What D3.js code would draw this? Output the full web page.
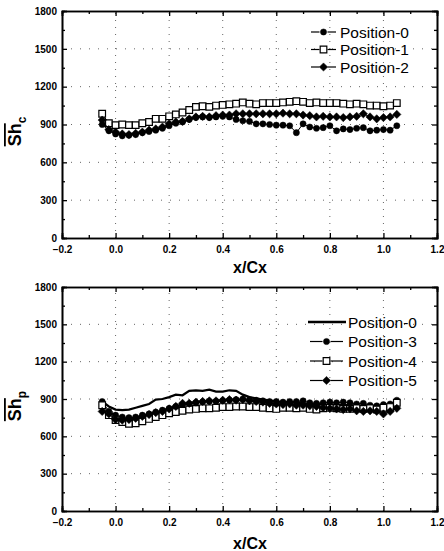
<!DOCTYPE html>
<html>
<head>
<meta charset="utf-8">
<script src="https://cdn.jsdelivr.net/npm/d3@7"></script>
<style>
  body { margin: 0; background: #fff; }
  svg { display: block; font-family: "Liberation Sans", Arial, sans-serif; }
</style>
</head>
<body>
<svg></svg>
<script>
const width = 444, height = 551;

// x/Cx stations shared by every series
const xPos = [-0.05, -0.025, 0, 0.025, 0.05, 0.075, 0.1, 0.125, 0.15, 0.175,
  0.2, 0.225, 0.25, 0.275, 0.3, 0.325, 0.35, 0.375, 0.4, 0.425,
  0.45, 0.475, 0.5, 0.525, 0.55, 0.575, 0.6, 0.625, 0.65, 0.675,
  0.7, 0.725, 0.75, 0.775, 0.8, 0.825, 0.85, 0.875, 0.9, 0.925,
  0.95, 0.975, 1.0, 1.025, 1.05];

const xTicks = [-0.2, 0, 0.2, 0.4, 0.6, 0.8, 1.0, 1.2];
const yTicks = [0, 300, 600, 900, 1200, 1500, 1800];

// top panel (Sh_c)
const topPos0 = [900, 850, 825, 810, 815, 820, 835, 845, 855, 870,
  890, 910, 920, 940, 955, 960, 955, 960, 965, 960,
  940, 930, 925, 905, 905, 900, 895, 895, 890, 835,
  905, 880, 870, 875, 890, 850, 865, 860, 870, 875,
  850, 855, 860, 855, 890];
const topPos1 = [985, 910, 895, 900, 895, 895, 910, 920, 945, 945,
  965, 980, 995, 1015, 1040, 1045, 1040, 1050, 1055, 1060,
  1065, 1075, 1065, 1060, 1070, 1070, 1070, 1075, 1080, 1085,
  1080, 1070, 1075, 1070, 1070, 1070, 1065, 1060, 1065, 1060,
  1050, 1050, 1045, 1050, 1070];
const topPos2 = [935, 860, 840, 825, 820, 830, 840, 855, 865, 880,
  905, 920, 925, 945, 960, 965, 960, 970, 975, 975,
  985, 985, 985, 985, 985, 985, 985, 990, 985, 985,
  975, 970, 960, 965, 960, 960, 955, 960, 965, 985,
  960, 945, 955, 960, 980];

// bottom panel (Sh_p)
const botPos0 = [880, 840, 815, 810, 815, 830, 845, 860, 895, 900,
  915, 935, 930, 965, 970, 965, 975, 960, 960, 970,
  965, 935, 915, 905, 895, 890, 880, 875, 875, 870,
  865, 860, 860, 855, 855, 855, 850, 850, 845, 840,
  830, 825, 835, 845, 870];
const botPos3 = [880, 800, 770, 755, 750, 755, 770, 780, 795, 810,
  825, 840, 850, 860, 870, 875, 880, 880, 885, 890,
  895, 900, 895, 890, 885, 880, 880, 875, 880, 880,
  885, 870, 865, 870, 875, 870, 875, 870, 860, 865,
  850, 845, 855, 860, 890];
const botPos4 = [850, 770, 730, 715, 700, 705, 720, 740, 755, 770,
  785, 795, 805, 815, 820, 825, 825, 830, 835, 835,
  840, 840, 835, 835, 830, 825, 820, 830, 830, 825,
  830, 820, 815, 825, 830, 825, 820, 820, 825, 820,
  825, 815, 830, 835, 870];
const botPos5 = [800, 780, 735, 730, 735, 745, 760, 775, 790, 800,
  820, 840, 865, 865, 875, 880, 885, 885, 890, 895,
  890, 895, 885, 880, 875, 865, 860, 855, 860, 850,
  850, 845, 840, 830, 825, 820, 815, 820, 805, 800,
  805, 800, 780, 800, 825];

var svg = d3.select("svg")
    .attr("width", width)
    .attr("height", height);

const symbols = {
    circle: { d: d3.symbol().type(d3.symbolCircle).size(30)(), rot: 0 },
    square: { d: d3.symbol().type(d3.symbolSquare).size(44)(), rot: 0 },
    diamond: { d: d3.symbol().type(d3.symbolSquare).size(34)(), rot: 45 }
};

function drawPanel(cfg) {
    const x = d3.scaleLinear().domain([-0.2, 1.2]).range([62, 437]);
    const y = d3.scaleLinear().domain([0, 1800]).range([cfg.bottom, cfg.top]);
    const g = svg.append("g");

    // dotted grid
    g.selectAll(".gx").data(xTicks.slice(1, -1)).enter().append("line")
        .attr("x1", d => x(d)).attr("x2", d => x(d))
        .attr("y1", y(0)).attr("y2", y(1800))
        .attr("stroke", "#666").attr("stroke-width", 1)
        .attr("stroke-dasharray", "1,6");
    g.selectAll(".gy").data(yTicks.slice(1, -1)).enter().append("line")
        .attr("x1", x(-0.2)).attr("x2", x(1.2))
        .attr("y1", d => y(d)).attr("y2", d => y(d))
        .attr("stroke", "#666").attr("stroke-width", 1)
        .attr("stroke-dasharray", "1,8");

    // axes, ticks inward on all four sides
    const minorX = d3.range(-0.1, 1.2, 0.2);
    const minorY = d3.range(150, 1800, 300);
    g.append("g").attr("transform", `translate(0,${y(0)})`)
        .call(d3.axisBottom(x).tickValues(xTicks).tickSize(-5).tickPadding(8).tickFormat(d3.format(".1f")));
    g.append("g").attr("transform", `translate(0,${y(0)})`)
        .call(d3.axisBottom(x).tickValues(minorX).tickSize(-3).tickFormat(""));
    g.append("g").attr("transform", `translate(0,${y(1800)})`)
        .call(d3.axisTop(x).tickValues(xTicks).tickSize(-5).tickFormat(""));
    g.append("g").attr("transform", `translate(0,${y(1800)})`)
        .call(d3.axisTop(x).tickValues(minorX).tickSize(-3).tickFormat(""));
    g.append("g").attr("transform", `translate(${x(-0.2)},0)`)
        .call(d3.axisLeft(y).tickValues(yTicks).tickSize(-5).tickPadding(5).tickFormat(d3.format("d")));
    g.append("g").attr("transform", `translate(${x(-0.2)},0)`)
        .call(d3.axisLeft(y).tickValues(minorY).tickSize(-3).tickFormat(""));
    g.append("g").attr("transform", `translate(${x(1.2)},0)`)
        .call(d3.axisRight(y).tickValues(yTicks).tickSize(-5).tickFormat(""));
    g.append("g").attr("transform", `translate(${x(1.2)},0)`)
        .call(d3.axisRight(y).tickValues(minorY).tickSize(-3).tickFormat(""));
    g.selectAll(".domain").attr("stroke", "#000").attr("stroke-width", 1.6);
    g.selectAll(".tick line").attr("stroke", "#000").attr("stroke-width", 1.3);
    g.selectAll(".tick text").attr("fill", "#000")
        .style("font-size", "10px").style("font-weight", "bold");

    // series
    cfg.series.forEach(s => {
        const pts = xPos.map((v, i) => [v, s.values[i]]);
        g.append("path").datum(pts)
            .attr("fill", "none").attr("stroke", "#000")
            .attr("stroke-width", s.marker ? 1 : 2.2)
            .attr("d", d3.line().x(d => x(d[0])).y(d => y(d[1])));
        if (s.marker) {
            const sym = symbols[s.marker];
            g.selectAll(null).data(pts).enter().append("path")
                .attr("transform", d => `translate(${x(d[0])},${y(d[1])}) rotate(${sym.rot})`)
                .attr("d", sym.d)
                .attr("fill", s.open ? "#fff" : "#000")
                .attr("stroke", "#000").attr("stroke-width", s.open ? 1.2 : 0.5);
        }
    });

    // legend
    const lg = g.selectAll(".leg").data(cfg.series).enter().append("g")
        .attr("transform", (d, i) => `translate(${cfg.legX},${cfg.legY + i * cfg.legStep})`);
    lg.each(function (d) {
        const el = d3.select(this);
        const L = cfg.lineLen;
        if (d.marker) {
            const sym = symbols[d.marker];
            el.append("line").attr("x1", 0).attr("x2", L / 2 - 4).attr("y1", 0).attr("y2", 0)
                .attr("stroke", "#000").attr("stroke-width", 1.2);
            el.append("line").attr("x1", L / 2 + 4).attr("x2", L).attr("y1", 0).attr("y2", 0)
                .attr("stroke", "#000").attr("stroke-width", 1.2);
            el.append("path").attr("transform", `translate(${L / 2},0) rotate(${sym.rot})`)
                .attr("d", sym.d)
                .attr("fill", d.open ? "#fff" : "#000")
                .attr("stroke", "#000").attr("stroke-width", d.open ? 1.2 : 0.5);
        } else {
            el.append("line").attr("x1", -2).attr("x2", L + 3).attr("y1", 0).attr("y2", 0)
                .attr("stroke", "#000").attr("stroke-width", 2.4);
        }
        el.append("text").attr("x", cfg.textDx).attr("y", 0).attr("dy", "0.36em")
            .style("font-size", cfg.legFont + "px").text(d.name);
    });

    // axis titles
    svg.append("text").attr("x", 250).attr("y", cfg.xLabelY)
        .attr("text-anchor", "middle")
        .style("font-size", "16px").style("font-weight", "bold")
        .text("x/Cx");
    const yl = svg.append("text")
        .attr("transform", `translate(${cfg.yLabelX},${(cfg.top + cfg.bottom) / 2 + 7}) rotate(-90)`)
        .attr("text-anchor", "middle")
        .style("font-size", "18px").style("font-weight", "bold");
    yl.append("tspan").style("text-decoration", "overline").text("Sh");
    yl.append("tspan").attr("dy", 5).style("font-size", "12px").text(cfg.sub);
}

drawPanel({
    top: 11, bottom: 238, xLabelY: 273, yLabelX: 21, sub: "c",
    legX: 311, legY: 32, legStep: 17.5, lineLen: 25, textDx: 29, legFont: 15.5,
    series: [
        { name: "Position-0", values: topPos0, marker: "circle" },
        { name: "Position-1", values: topPos1, marker: "square", open: true },
        { name: "Position-2", values: topPos2, marker: "diamond" }
    ]
});

drawPanel({
    top: 287, bottom: 511, xLabelY: 549, yLabelX: 21, sub: "p",
    legX: 310, legY: 322, legStep: 19.5, lineLen: 33, textDx: 38, legFont: 15.5,
    series: [
        { name: "Position-0", values: botPos0 },
        { name: "Position-3", values: botPos3, marker: "circle" },
        { name: "Position-4", values: botPos4, marker: "square", open: true },
        { name: "Position-5", values: botPos5, marker: "diamond" }
    ]
});
</script>
</body>
</html>
